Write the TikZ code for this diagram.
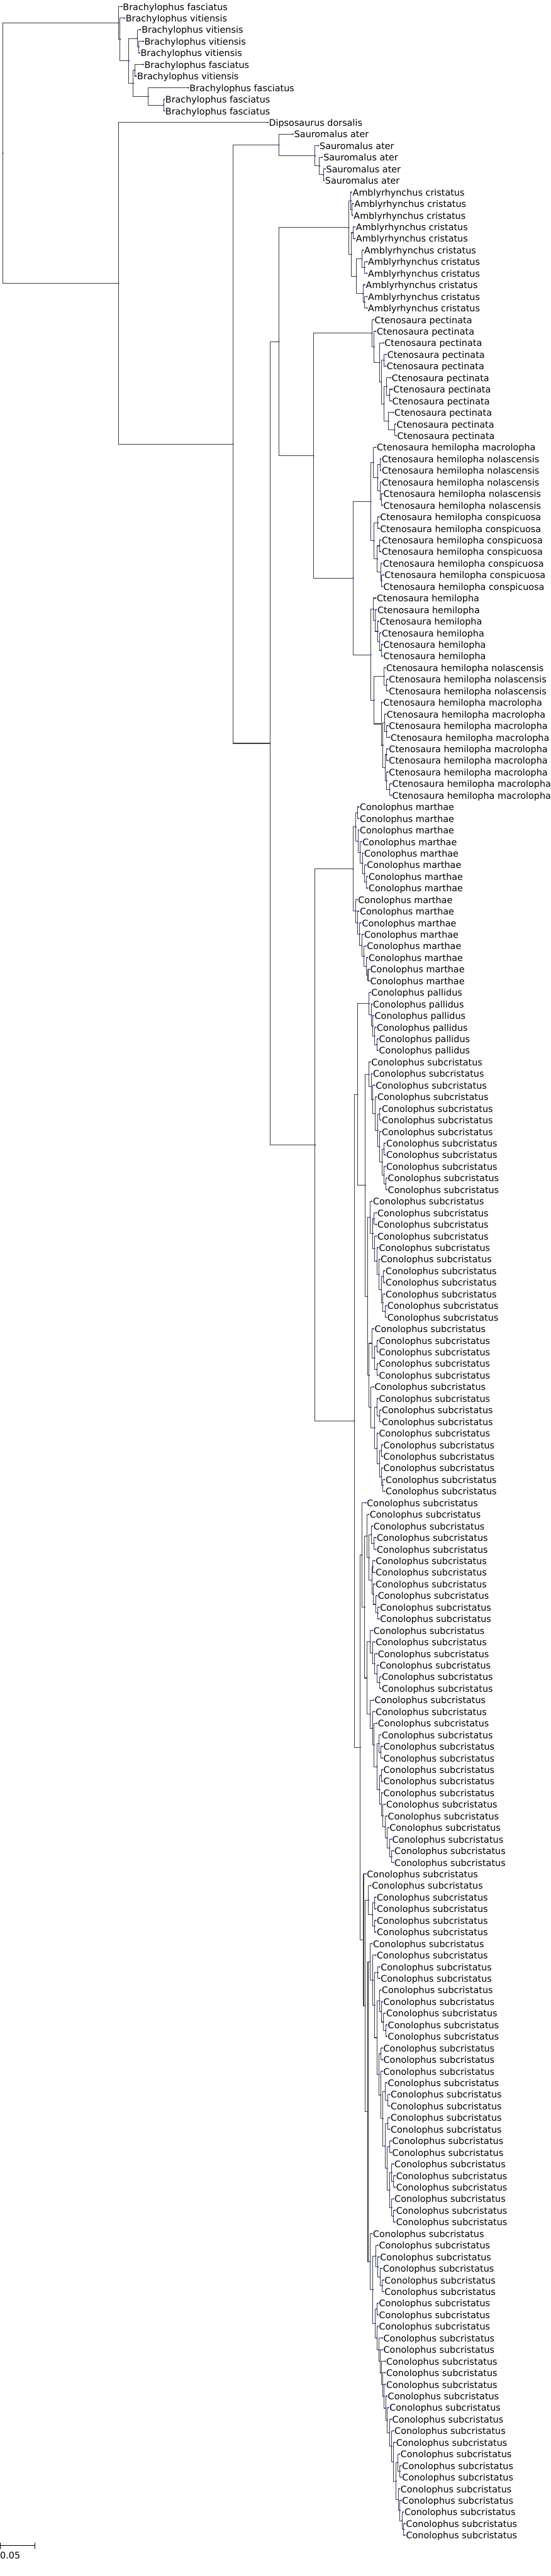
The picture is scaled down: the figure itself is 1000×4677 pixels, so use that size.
\documentclass[tikz,border=0pt]{standalone}
\usepackage{fontspec}
\setmainfont{DejaVu Sans}
\usetikzlibrary{calc}
\definecolor{brc}{RGB}{60,60,60}
\definecolor{dtc}{RGB}{30,60,215}
\newcommand\nBf{Brachylophus fasciatus}
\newcommand\nBv{Brachylophus vitiensis}
\newcommand\nSa{Sauromalus ater}
\newcommand\nAc{Amblyrhynchus cristatus}
\newcommand\nCp{Ctenosaura pectinata}
\newcommand\nCma{Ctenosaura hemilopha macrolopha}
\newcommand\nCno{Ctenosaura hemilopha nolascensis}
\newcommand\nCco{Ctenosaura hemilopha conspicuosa}
\newcommand\nCh{Ctenosaura hemilopha}
\newcommand\nCm{Conolophus marthae}
\newcommand\nCpa{Conolophus pallidus}
\newcommand\nCs{Conolophus subcristatus}
\gdef\alldots{}
\newcommand\mkleaf[3]{%
  \coordinate (l#1) at ({#2-3},{11.8+21.06*#1});
  \node[lab] (t#1) at (l#1) {#3};
  \xdef\alldots{\alldots (l#1) circle (1.6)}%
}
\newcommand\mkjoin[4]{%
  \path let \p1=(#3), \p2=(#4) in coordinate (#1) at (#2pt,{0.5*(\y1+\y2)});
  \draw[br] (#3) -| (#1) |- (#4);
  \xdef\alldots{\alldots (#1) circle (1.6)}%
}
\begin{document}
\begin{tikzpicture}[x=1pt,y=-1pt,
  br/.style={draw=brc,line width=1.2pt},
  dotc/.style={fill=dtc},
  sbar/.style={draw=black,line width=1.3pt},
  lab/.style={anchor=west,inner sep=0pt,xshift=2pt,yshift=-2.5pt,text height=12pt,text depth=4pt,font=\fontsize{16.4}{19.7}\selectfont}]
\useasboundingbox (0,0) rectangle (1000,4677);
% leaves
\foreach \i/\x in {0/224,5/263,7/345,8/301,9/301} {\mkleaf{\i}{\x}{\nBf}}
\foreach \i/\x in {1/229,2/258,3/263,4/256,6/250} {\mkleaf{\i}{\x}{\nBv}}
\mkleaf{10}{489}{Dipsosaurus dorsalis}
\foreach \i/\x in {11/535,12/581,13/588,14/593,15/591} {\mkleaf{\i}{\x}{\nSa}}
\foreach \i/\x in {16/641,17/644,18/643,19/647,20/647,21/662,22/669,23/669,24/665,25/669,26/669} {\mkleaf{\i}{\x}{\nAc}}
\foreach \i/\x in {27/681,28/685,29/699,30/704,31/703,32/712,33/715,34/713,35/717,36/721,37/722} {\mkleaf{\i}{\x}{\nCp}}
\foreach \i/\x in {38/685,60/697,61/703,62/707,63/710,64/707,65/707,66/707,67/713,68/713} {\mkleaf{\i}{\x}{\nCma}}
\foreach \i/\x in {39/694,40/694,41/694,42/697,43/697,57/702,58/707,59/707} {\mkleaf{\i}{\x}{\nCno}}
\foreach \i/\x in {44/691,45/691,46/694,47/694,48/696,49/699,50/697} {\mkleaf{\i}{\x}{\nCco}}
\foreach \i/\x in {51/685,52/686,53/690,54/694,55/697,56/697} {\mkleaf{\i}{\x}{\nCh}}
\foreach \i/\x in {69/654,70/654,71/654,72/659,73/662,74/667,75/670,76/670,77/651,78/654,79/658,80/662,81/667,82/670,83/673,84/673} {\mkleaf{\i}{\x}{\nCm}}
\foreach \i/\x in {85/675,86/678,87/681,88/685,89/689,90/689} {\mkleaf{\i}{\x}{\nCpa}}
\foreach \i/\x in {91/675,92/678,93/683,94/686,95/694,96/694,97/694,98/702,99/702,100/702,101/705,102/705,103/678,104/686,105/686,106/686,107/689,108/692,109/701,110/701,111/701,112/704,113/704,114/681,115/689,116/689,117/689,118/689,119/681,120/689,121/694,122/694,123/689,124/697,125/697,126/697,127/701,128/701,129/667,130/672,131/679,132/685,133/685,134/683,135/683,136/683,137/687,138/691,139/691,140/679,141/683,142/687,143/690,144/694,145/694,146/681,147/683,148/687,149/694,150/697,151/697,152/697,153/697,154/697,155/702,156/705,157/708,158/713,159/717,160/717,161/667,162/676,163/685,164/685,165/685,166/685,167/678,168/685,169/692,170/692,171/694,172/697,173/702,174/705,175/705,176/697,177/697,178/697,179/705,180/710,181/710,182/710,183/710,184/713,185/713,186/717,187/720,188/720,189/717,190/720,191/720,192/678,193/689,194/691,195/696,196/699,197/699,198/689,199/689,200/689,201/697,202/697,203/702,204/702,205/702,206/705,207/708,208/713,209/717,210/720,211/728,212/731,213/731,214/728,215/731,216/735,217/738,218/738} {\mkleaf{\i}{\x}{\nCs}}
% Brachylophus
\mkjoin{I}{297}{l8}{l9}
\mkjoin{H}{269}{l7}{I}
\mkjoin{G}{245}{l5}{l6}
\mkjoin{E}{242}{G}{H}
\mkjoin{F}{252}{l3}{l4}
\mkjoin{D}{249}{l2}{F}
\mkjoin{C}{234}{D}{E}
\mkjoin{B}{218}{l1}{C}
\mkjoin{A}{215}{l0}{B}
% Sauromalus
\mkjoin{P}{587}{l14}{l15}
\mkjoin{O}{580}{l13}{P}
\mkjoin{N}{572}{l12}{O}
\mkjoin{L}{506}{l11}{N}
% Amblyrhynchus
\mkjoin{am1}{639}{l17}{l18}
\mkjoin{U}{637}{l16}{am1}
\mkjoin{W}{641}{l19}{l20}
\mkjoin{am2}{662}{l22}{l23}
\mkjoin{am3}{657}{l21}{am2}
\mkjoin{am4}{662}{l25}{l26}
\mkjoin{am5}{659}{l24}{am4}
\mkjoin{V2}{647}{am3}{am5}
\mkjoin{V}{638}{W}{V2}
\mkjoin{S}{633}{U}{V}
% Ctenosaura pectinata
\mkjoin{p1}{716}{l36}{l37}
\mkjoin{Y8}{705}{l35}{p1}
\mkjoin{p2}{707}{l33}{l34}
\mkjoin{Y7}{702}{l32}{p2}
\mkjoin{Y6}{697}{Y7}{Y8}
\mkjoin{Y5}{697}{l30}{l31}
\mkjoin{Y4}{692}{Y5}{Y6}
\mkjoin{Y2}{689}{l29}{Y4}
\mkjoin{Y1}{679}{l28}{Y2}
\mkjoin{Y}{675}{l27}{Y1}
% Ctenosaura hemilopha (1)
\mkjoin{h1}{692}{l42}{l43}
\mkjoin{h2}{690}{l41}{h1}
\mkjoin{h3}{690}{l39}{l40}
\mkjoin{Z1a2}{686}{h3}{h2}
\mkjoin{Z1a}{678}{l38}{Z1a2}
\mkjoin{h4}{686}{l44}{l45}
\mkjoin{h5}{689}{l46}{l47}
\mkjoin{h6}{693}{l49}{l50}
\mkjoin{h7}{691}{l48}{h6}
\mkjoin{h8}{685}{h5}{h7}
\mkjoin{Z1b}{679}{h4}{h8}
\mkjoin{Z1}{673}{Z1a}{Z1b}
% Ctenosaura hemilopha (2)
\mkjoin{h9}{692}{l55}{l56}
\mkjoin{h10}{689}{l54}{h9}
\mkjoin{h11}{686}{l53}{h10}
\mkjoin{h12}{681}{l52}{h11}
\mkjoin{h13}{678}{l51}{h12}
\mkjoin{h14}{702}{l58}{l59}
\mkjoin{h15}{697}{l57}{h14}
\mkjoin{h16}{702}{l62}{l63}
\mkjoin{h17}{698}{l61}{h16}
\mkjoin{h18}{702}{l64}{l65}
\mkjoin{h19}{707}{l67}{l68}
\mkjoin{h20}{702}{l66}{h19}
\mkjoin{h21}{699}{h18}{h20}
\mkjoin{h22}{695}{h17}{h21}
\mkjoin{h23}{692}{l60}{h22}
\mkjoin{Z2b}{679}{h15}{h23}
\mkjoin{Z2}{673}{h13}{Z2b}
\mkjoin{Z}{641}{Z1}{Z2}
\mkjoin{T}{569}{Y}{Z}
\mkjoin{Q}{506}{S}{T}
% Conolophus marthae
\mkjoin{m1}{665}{l75}{l76}
\mkjoin{m2}{662}{l74}{m1}
\mkjoin{m3}{658}{l73}{m2}
\mkjoin{m4}{654}{l72}{m3}
\mkjoin{m5}{650}{l71}{m4}
\mkjoin{m6}{649}{l69}{l70}
\mkjoin{M1}{646}{m6}{m5}
\mkjoin{m7}{668}{l83}{l84}
\mkjoin{m8}{665}{l82}{m7}
\mkjoin{m9}{661}{l81}{m8}
\mkjoin{m10}{657}{l80}{m9}
\mkjoin{m11}{653}{l79}{m10}
\mkjoin{m12}{649}{l78}{m11}
\mkjoin{M2}{646}{l77}{m12}
\mkjoin{R1}{641}{M1}{M2}
% Conolophus pallidus
\mkjoin{pa1}{684}{l89}{l90}
\mkjoin{pa2}{680}{l88}{pa1}
\mkjoin{pa3}{677}{l87}{pa2}
\mkjoin{pa4}{674}{l86}{pa3}
\mkjoin{PA}{670}{l85}{pa4}
% subcristatus B1
\mkjoin{b1}{700}{l101}{l102}
\mkjoin{b2}{697}{l100}{b1}
\mkjoin{b3}{697}{l98}{l99}
\mkjoin{b4}{694}{b3}{b2}
\mkjoin{b5}{689}{l97}{b4}
\mkjoin{b6}{689}{l95}{l96}
\mkjoin{b7}{686}{b6}{b5}
\mkjoin{b8}{681}{l94}{b7}
\mkjoin{b9}{677}{l93}{b8}
\mkjoin{b10}{674}{l92}{b9}
\mkjoin{B1}{670}{l91}{b10}
% C1
\mkjoin{c1}{699}{l112}{l113}
\mkjoin{c2}{695}{l111}{c1}
\mkjoin{c3}{696}{l109}{l110}
\mkjoin{c4}{692}{c3}{c2}
\mkjoin{c5}{688}{l108}{c4}
\mkjoin{c6}{684}{l107}{c5}
\mkjoin{c7}{680}{l106}{c6}
\mkjoin{c8}{679}{l104}{l105}
\mkjoin{c9}{677}{c8}{c7}
\mkjoin{C1}{672}{l103}{c9}
% C2
\mkjoin{d1}{684}{l115}{l116}
\mkjoin{d2}{684}{l117}{l118}
\mkjoin{d3}{680}{d1}{d2}
\mkjoin{D1}{675}{l114}{d3}
\mkjoin{e1}{695}{l127}{l128}
\mkjoin{e2}{692}{l126}{e1}
\mkjoin{e3}{692}{l124}{l125}
\mkjoin{e4}{689}{e3}{e2}
\mkjoin{e5}{684}{l123}{e4}
\mkjoin{e6}{689}{l121}{l122}
\mkjoin{e7}{684}{l120}{e6}
\mkjoin{e8}{680}{e7}{e5}
\mkjoin{D2}{673}{l119}{e8}
\mkjoin{C2}{670}{D1}{D2}
\mkjoin{B2}{667}{C1}{C2}
\mkjoin{KB}{663}{B1}{B2}
\mkjoin{R2a}{649}{PA}{KB}
% F1
\mkjoin{f1}{686}{l138}{l139}
\mkjoin{f2}{682}{l137}{f1}
\mkjoin{f3}{678}{l136}{f2}
\mkjoin{f4}{677}{l134}{l135}
\mkjoin{f5}{675}{f4}{f3}
\mkjoin{f6}{679}{l132}{l133}
\mkjoin{f7}{674}{l131}{f6}
\mkjoin{f8}{670}{f7}{f5}
\mkjoin{G1}{666}{l130}{f8}
\mkjoin{g1}{689}{l144}{l145}
\mkjoin{g2}{684}{l143}{g1}
\mkjoin{g3}{680}{l142}{g2}
\mkjoin{g4}{676}{l141}{g3}
\mkjoin{G2a}{672}{l140}{g4}
\mkjoin{g5}{711}{l159}{l160}
\mkjoin{g6}{707}{l158}{g5}
\mkjoin{g7}{703}{l157}{g6}
\mkjoin{g8}{699}{l156}{g7}
\mkjoin{g9}{695}{l155}{g8}
\mkjoin{g10}{692}{l154}{g9}
\mkjoin{g11}{692}{l152}{l153}
\mkjoin{g12}{689}{g11}{g10}
\mkjoin{g13}{691}{l150}{l151}
\mkjoin{g14}{688}{l149}{g13}
\mkjoin{g15}{684}{g14}{g12}
\mkjoin{g16}{679}{l148}{g15}
\mkjoin{g17}{676}{l147}{g16}
\mkjoin{G2b}{672}{l146}{g17}
\mkjoin{G2}{666}{G2a}{G2b}
\mkjoin{F1b}{662}{G1}{G2}
\mkjoin{F1}{657}{l129}{F1b}
% F2
\mkjoin{hh1}{680}{l165}{l166}
\mkjoin{hh2}{680}{l163}{l164}
\mkjoin{hh3}{676}{hh2}{hh1}
\mkjoin{H1}{669}{l162}{hh3}
\mkjoin{q1}{700}{l174}{l175}
\mkjoin{q2}{696}{l173}{q1}
\mkjoin{q3}{692}{l172}{q2}
\mkjoin{A171}{689}{l171}{q3}
\mkjoin{q4}{714}{l190}{l191}
\mkjoin{q5}{711}{l189}{q4}
\mkjoin{q6}{714}{l187}{l188}
\mkjoin{q7}{711}{l186}{q6}
\mkjoin{qK}{707}{q7}{q5}
\mkjoin{J184}{707}{l184}{l185}
\mkjoin{qI}{703}{J184}{qK}
\mkjoin{Hq}{704}{l182}{l183}
\mkjoin{qG}{699}{Hq}{qI}
\mkjoin{q8}{704}{l180}{l181}
\mkjoin{qF}{699}{l179}{q8}
\mkjoin{qE}{695}{qF}{qG}
\mkjoin{qD}{691}{l178}{qE}
\mkjoin{q9}{691}{l176}{l177}
\mkjoin{Bq}{688}{q9}{qD}
\mkjoin{q10}{684}{A171}{Bq}
\mkjoin{q11}{686}{l169}{l170}
\mkjoin{q12}{680}{q11}{q10}
\mkjoin{q13}{677}{l168}{q12}
\mkjoin{H2a}{672}{l167}{q13}
\mkjoin{r1}{694}{l196}{l197}
\mkjoin{r2}{690}{l195}{r1}
\mkjoin{r3}{686}{l194}{r2}
\mkjoin{r4}{682}{l193}{r3}
\mkjoin{r5}{684}{l198}{l199}
\mkjoin{s1}{733}{l217}{l218}
\mkjoin{s2}{730}{l216}{s1}
\mkjoin{s3}{726}{l215}{s2}
\mkjoin{s4}{723}{l214}{s3}
\mkjoin{s5}{726}{l212}{l213}
\mkjoin{s6}{722}{l211}{s5}
\mkjoin{s7}{719}{s6}{s4}
\mkjoin{s8}{714}{l210}{s7}
\mkjoin{s9}{711}{l209}{s8}
\mkjoin{s10}{707}{l208}{s9}
\mkjoin{s11}{703}{l207}{s10}
\mkjoin{s12}{700}{l206}{s11}
\mkjoin{s13}{697}{l205}{s12}
\mkjoin{s14}{695}{l204}{s13}
\mkjoin{s15}{692}{l203}{s14}
\mkjoin{s16}{690}{l202}{s15}
\mkjoin{s17}{688}{l201}{s16}
\mkjoin{s18}{684}{l200}{s17}
\mkjoin{r6}{681}{r5}{s18}
\mkjoin{r7}{677}{r4}{r6}
\mkjoin{H2b}{672}{l192}{r7}
\mkjoin{H2}{668}{H2a}{H2b}
\mkjoin{Hn}{663}{H1}{H2}
\mkjoin{F2}{660}{l161}{Hn}
\mkjoin{R2b}{654}{F1}{F2}
\mkjoin{R2}{643}{R2a}{R2b}
\mkjoin{R}{572}{R1}{R2}
\mkjoin{M}{490}{Q}{R}
\mkjoin{K}{423}{L}{M}
\mkjoin{J}{215}{l10}{K}
\mkjoin{root}{5}{A}{J}
% node dots on top
\fill[dotc] \alldots;
% scale bar
\coordinate (sbL) at (1,4622);
\coordinate (sbR) at (63,4622);
\draw[sbar] (sbL) -- (sbR);
\draw[sbar] ([yshift=6pt]sbL) -- ([yshift=-6pt]sbL);
\draw[sbar] ([yshift=6pt]sbR) -- ([yshift=-6pt]sbR);
\node[anchor=west,inner sep=0pt,font=\fontsize{16.4}{19.7}\selectfont] (sblab) at (0,4640) {0.05};
\end{tikzpicture}
\end{document}
